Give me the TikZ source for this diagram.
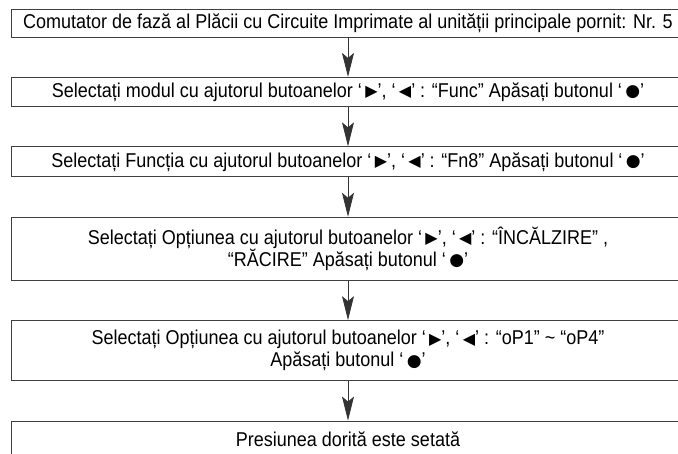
\documentclass[tikz,border=0pt]{standalone}
\usepackage{fontspec}
\setmainfont{Liberation Sans}[FakeStretch=0.9]
\newfontfamily\symfont{DejaVu Sans}
\usepackage{tikz}
\usetikzlibrary{arrows.meta, positioning}
\newcommand{\btnR}{\,\raisebox{0.5pt}{\symfont\fontsize{16}{16}\selectfont ▶}}
\newcommand{\btnL}{\,\raisebox{0.5pt}{\symfont\fontsize{16}{16}\selectfont ◀}}
\newcommand{\btnOK}{\,\raisebox{0.5pt}{\symfont\fontsize{17}{17}\selectfont ●}}
\tikzset{
  stepbox/.style={
    draw=black!75,
    line width=0.9pt,
    rectangle,
    minimum width=674pt,
    inner sep=0pt,
    align=center,
    font=\fontsize{20}{22}\selectfont,
  },
  arrow/.style={
    -{Stealth[length=24pt, width=12pt, inset=5pt]},
    draw=black!80,
    line width=0.8pt
  }
}
\begin{document}
\begin{tikzpicture}[x=1pt, y=1pt, node distance=39.5pt]
\useasboundingbox (0,0) rectangle (678,-453);
\clip (0,0) rectangle (678,-453);

% --- Etapele ---
\node[stepbox, minimum height=28pt] (comut) at (348,-23)
  {Comutator de fază al Plăcii cu Circuite Imprimate al unității principale pornit: Nr. 5};
\node[stepbox, minimum height=29pt, below=of comut] (modul)
  {Selectați modul cu ajutorul butoanelor ‘\btnR’, ‘\btnL’ : “Func” Apăsați butonul ‘\btnOK’};
\node[stepbox, minimum height=30pt, below=of modul] (functia)
  {Selectați Funcția cu ajutorul butoanelor ‘\btnR’, ‘\btnL’ : “Fn8” Apăsați butonul ‘\btnOK’};
\node[stepbox, minimum height=63pt, below=of functia] (optmod)
  {Selectați Opțiunea cu ajutorul butoanelor ‘\btnR’, ‘\btnL’ : “ÎNCĂLZIRE” ,\\
   “RĂCIRE” Apăsați butonul ‘\btnOK’};
\node[stepbox, minimum height=60pt, below=of optmod] (optval)
  {Selectați Opțiunea cu ajutorul butoanelor ‘\btnR’, ‘\btnL’ : “oP1” \textasciitilde{} “oP4”\\
   Apăsați butonul ‘\btnOK’};
\node[stepbox, minimum height=36pt, below=of optval] (final)
  {Presiunea dorită este setată};

% --- Sageti ---
\draw[arrow] (comut) -- (modul);
\draw[arrow] (modul) -- (functia);
\draw[arrow] (functia) -- (optmod);
\draw[arrow] (optmod) -- (optval);
\draw[arrow] (optval) -- (final);

\end{tikzpicture}
\end{document}
